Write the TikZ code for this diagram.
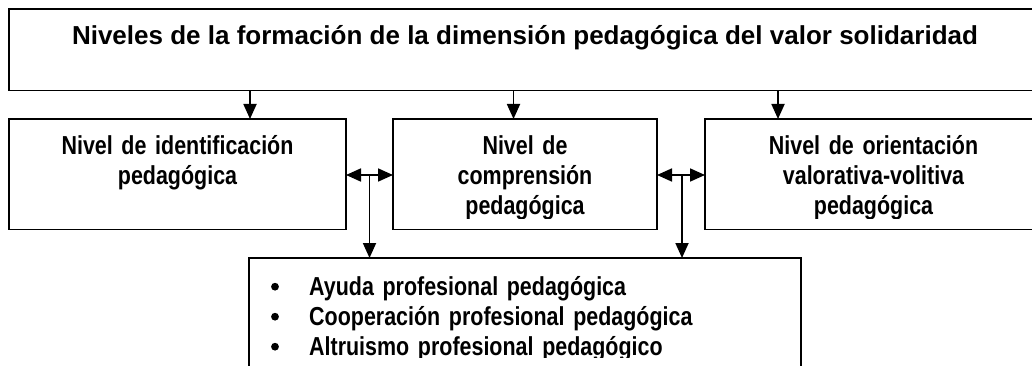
\documentclass[tikz,border=0pt]{standalone}
\usepackage{fontspec}
\setmainfont{Liberation Sans}[FakeStretch=0.825,WordSpace=0.75]
\newfontfamily\titlefont{Liberation Sans}
\usetikzlibrary{arrows.meta}
\begin{document}
\begin{tikzpicture}[x=1pt,y=-1pt,
  box/.style={draw, line width=1.8pt, inner sep=0pt, outer sep=0pt, anchor=north west},
  lbl/.style={font=\fontsize{26}{30}\selectfont\bfseries, align=center, anchor=base, inner sep=0pt},
  arr/.style={line width=1.8pt, -{Triangle[length=15pt,width=13pt]}},
  darr/.style={line width=1.8pt, {Triangle[length=15pt,width=13pt]}-{Triangle[length=15pt,width=13pt]}}]
\useasboundingbox (0,0) rectangle (1032,366);
% boxes
\node[box, minimum width=1033pt, minimum height=81.5pt] (top) at (9,9) {};
\node[box, minimum width=337pt, minimum height=110.5pt] (b1) at (9,119) {};
\node[box, minimum width=264pt, minimum height=110.5pt] (b2) at (393,119) {};
\node[box, minimum width=337pt, minimum height=110.5pt] (b3) at (705,119) {};
\node[box, minimum width=552pt, minimum height=160pt] (b4) at (249,258) {};
% texts
\node[lbl, font=\titlefont\fontsize{26}{30}\selectfont\bfseries] (title) at (525,45) {Niveles de la formación de la dimensión pedagógica del valor solidaridad};
\begin{scope}
\clip (0,100) rectangle (1032,218);
\node[lbl, text width=320pt] (t1) at (177.5,154.7) {Nivel de identificación\\pedagógica};
\node[lbl, text width=250pt] (t2) at (525,154.7) {Nivel de\\comprensión\\pedagógica};
\node[lbl, text width=320pt] (t3) at (873.5,154.7) {Nivel de orientación\\valorativa-volitiva\\pedagógica};
\end{scope}
\begin{scope}
\clip (250,260) rectangle (800,357.5);
\node[lbl, align=left, text width=480pt, anchor=base west] (t4) at (309,295)
  {Ayuda profesional pedagógica\\
   Cooperación profesional pedagógica\\
   Altruismo profesional pedagógico};
\fill (275,286.7) circle (3.9);
\fill (275,316.7) circle (3.9);
\fill (275,346.7) circle (3.9);
\end{scope}
% connectors
\draw[arr] (top.south -| 250,0) -- (b1.north -| 250,0);
\draw[arr] (top.south -| 513.5,0) -- (b2.north -| 513.5,0);
\draw[arr] (top.south -| 778,0) -- (b3.north -| 778,0);
\draw[darr] (b1.east |- 0,175) -- (b2.west |- 0,175);
\draw[darr] (b2.east |- 0,175) -- (b3.west |- 0,175);
\coordinate (j1) at (369.5,175);
\coordinate (j2) at (682,175);
\draw[arr] (j1) -- (b4.north -| j1);
\draw[arr] (j2) -- (b4.north -| j2);
\end{tikzpicture}
\end{document}
